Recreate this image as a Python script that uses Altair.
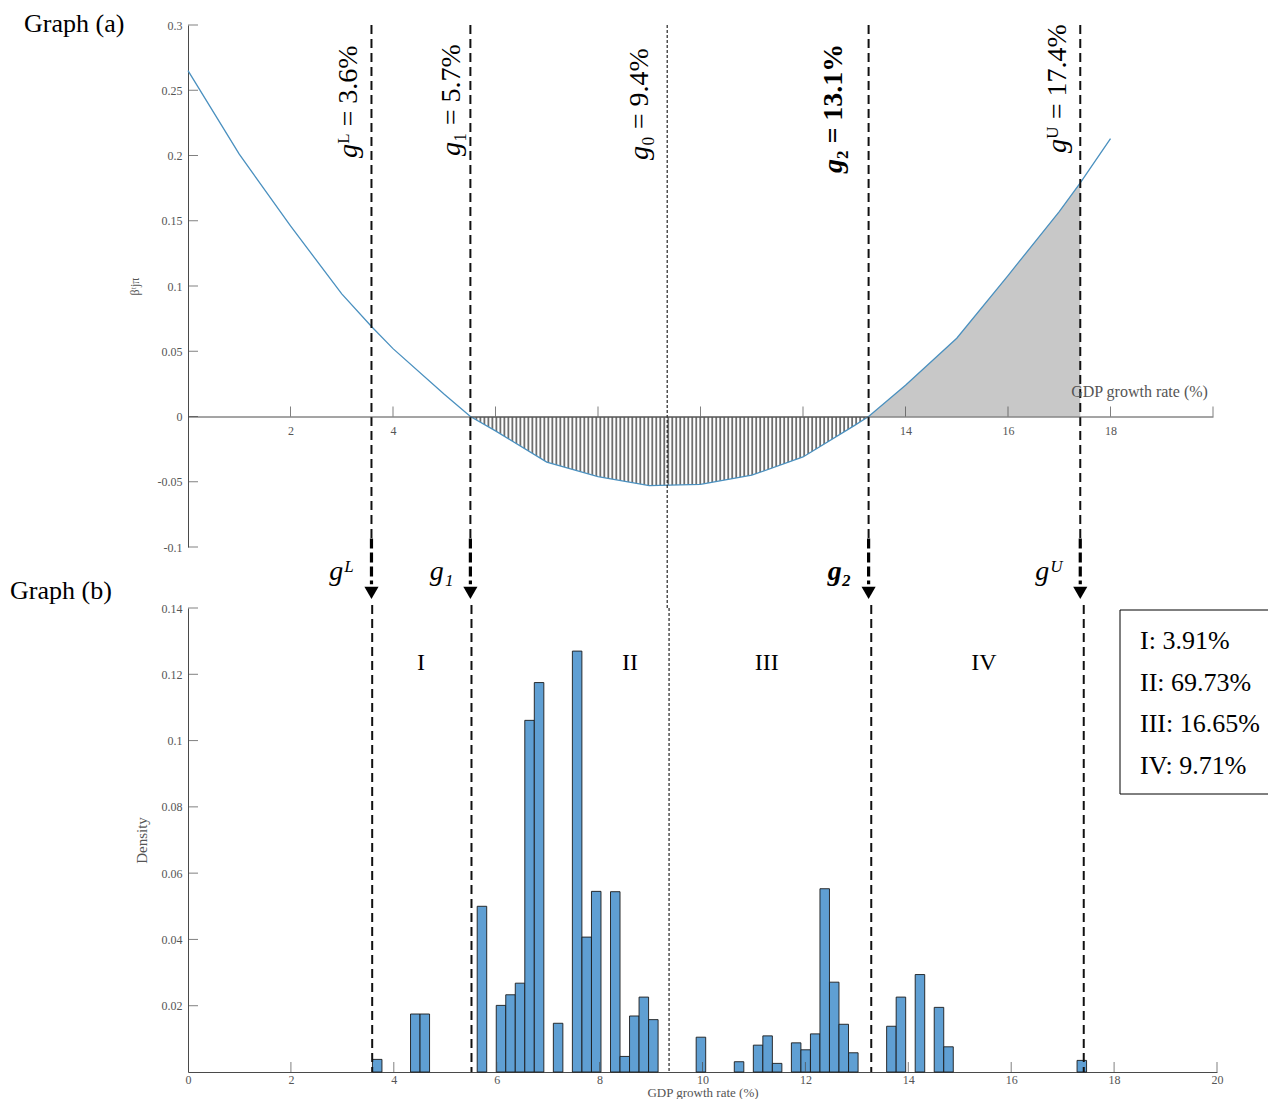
import altair as alt
import pandas as pd

# ---------------- data ----------------
# Graph (a): curve of beta vs GDP growth rate
curve_x = [0, 1, 2, 3, 3.58, 4, 5, 5.51, 6, 7, 8, 9, 10, 11, 12, 13, 13.28,
           14, 15, 16, 17, 17.41, 18]
curve_y = [0.265, 0.201, 0.146, 0.094, 0.069, 0.052, 0.017, 0.0, -0.011,
           -0.035, -0.046, -0.053, -0.052, -0.045, -0.031, -0.007, 0.0,
           0.024, 0.060, 0.108, 0.157, 0.179, 0.213]

# Graph (b): histogram (left bin edges, common width, density)
bin_left = [3.585, 4.325, 4.510, 5.621, 5.991, 6.176, 6.361, 6.546, 6.731,
            7.101, 7.471, 7.657, 7.842, 8.212, 8.397, 8.582, 8.767, 8.952,
            9.877, 10.618, 10.988, 11.173, 11.358, 11.728, 11.913, 12.098,
            12.283, 12.468, 12.653, 12.839, 13.579, 13.764, 14.134, 14.504,
            14.689, 17.280]
density = [0.0038, 0.0175, 0.0175, 0.050, 0.0201, 0.0233, 0.0268, 0.1061,
           0.1175, 0.0147, 0.127, 0.0407, 0.0545, 0.0544, 0.0047, 0.0169,
           0.0226, 0.0158, 0.0105, 0.0031, 0.0081, 0.0109, 0.0026, 0.0088,
           0.0067, 0.0115, 0.0553, 0.0271, 0.0144, 0.0058, 0.0138, 0.0226,
           0.0294, 0.0195, 0.0076, 0.0035]
bin_width = 0.185

# thresholds (positions as drawn)
thr_name = ["gL", "g1", "g0", "g2", "gU"]
thr_x = [3.58, 5.51, 9.35, 13.28, 17.41]

# rotated labels in graph (a)
rot_rest = ["ᴸ = 3.6%", "₁ = 5.7%", "₀ = 9.4%", "₂ = 13.1%", "ᵁ = 17.4%"]
rot_weight = ["normal", "normal", "normal", "bold", "normal"]

# arrow labels
arrow_name = ["gL", "g1", "g2", "gU"]
arrow_text = ["gᴸ", "g₁", "g₂", "gᵁ"]
arrow_weight = ["normal", "normal", "bold", "normal"]

# regions and shares
region_text = ["I", "II", "III", "IV"]
region_x = [4.53, 8.59, 11.25, 15.47]
share_text = ["I: 3.91%", "II: 69.73%", "III: 16.65%", "IV: 9.71%"]

# axes ticks
top_xticks = [2, 4, 6, 8, 10, 12, 14, 16, 18, 20]
top_xlabels = [2, 4, 6, 8, 10, 12, 14, 16, 18]
top_yticks = [-0.1, -0.05, 0, 0.05, 0.1, 0.15, 0.2, 0.25, 0.3]
bot_xlabels = [0, 2, 4, 6, 8, 10, 12, 14, 16, 18, 20]
bot_xticks = [2, 4, 6, 8, 10, 12, 14, 16, 18, 20]
bot_yticks = [0.02, 0.04, 0.06, 0.08, 0.1, 0.12, 0.14]

# ---------------- build tables ----------------
G = dict(zip(thr_name, thr_x))
curve_df = pd.DataFrame({"x": curve_x, "y": curve_y})
hist_df = pd.DataFrame({"left": bin_left, "density": density})
hist_df["right"] = hist_df["left"] + bin_width
arrow_df = pd.DataFrame({"x": [G[n] for n in arrow_name], "label": arrow_text,
                         "w": arrow_weight})
g0_df = pd.DataFrame({"x": [G["g0"]]})

# anchor positions of rotated labels (data x) and split point (pixel y)
rot_anchor_x = [3.29, 5.30, 8.97, 12.77, 17.14]
rot_split_py = [119, 117, 121, 134, 114]
rot_df = pd.DataFrame({"x": rot_anchor_x, "rest": rot_rest, "py": rot_split_py,
                       "w": rot_weight})
region_df = pd.DataFrame({"x": region_x, "t": region_text})
share_df = pd.DataFrame({"t": share_text, "py": [41, 83, 124, 166]})

FONT = "Liberation Serif"
AX = "#4a4a4a"
LBL = "#555555"
TW, TH = 1025, 522
BW, BH = 1029, 464

xs_t = alt.Scale(domain=[0, 20], nice=False, zero=False)
ys_t = alt.Scale(domain=[-0.1, 0.3], nice=False, zero=False)
xs_b = alt.Scale(domain=[0, 20], nice=False, zero=False)
ys_b = alt.Scale(domain=[0, 0.14], nice=False, zero=False)

top_xaxis = alt.Axis(values=top_xlabels,
                     labelExpr="(datum.value >= 6 && datum.value <= 12) ? '' : datum.label",
                     ticks=False, grid=False, domainColor=AX, domainWidth=1,
                     offset=-130.5, labelPadding=9, labelFont=FONT, labelFontSize=12,
                     labelColor=LBL, labelFlush=False,
                     title="GDP growth rate (%)", titleX=951, titleY=-25,
                     titleAlign="center", titleBaseline="middle", titleFont=FONT,
                     titleFontSize=16, titleFontWeight="normal", titleColor=LBL,
                     zindex=1)
top_yaxis = alt.Axis(values=top_yticks, labelExpr="toString(datum.value)",
                     ticks=False, grid=False, domainColor=AX, labelPadding=6,
                     labelFont=FONT, labelFontSize=12, labelColor=LBL,
                     labelFlush=False,
                     title="βᵗjπ", titleFont=FONT, titleFontSize=12,
                     titleFontWeight="normal", titleColor=LBL, titlePadding=16)

# ---------------- Graph (a) ----------------
area_right = alt.Chart(curve_df).transform_filter(
    f"datum.x >= {G['g2']} && datum.x <= {G['gU']}"
).mark_area(color="#c8c8c8", opacity=1).encode(
    x=alt.X("x:Q", scale=xs_t, axis=top_xaxis),
    y=alt.Y("y:Q", scale=ys_t, axis=top_yaxis),
    y2=alt.datum(0),
)
area_hatch = alt.Chart(curve_df).transform_filter(
    f"datum.x >= {G['g1']} && datum.x <= {G['g2']}"
).mark_area(color="#6e6e6e", opacity=1).encode(
    x="x:Q", y="y:Q", y2=alt.datum(0)
)
hatch_gaps = alt.Chart(alt.sequence(G["g1"], G["g2"], 0.078, as_="hx")).mark_rule(
    color="white", strokeWidth=2.2
).encode(
    x="hx:Q",
    y=alt.datum(-0.0008),
    y2=alt.datum(-0.062),
)
curve_line = alt.Chart(curve_df).mark_line(color="#4a90bf", strokeWidth=1.3).encode(
    x="x:Q", y="y:Q"
)
dash_top = alt.Chart(arrow_df).mark_rule(color="#111", strokeWidth=2, strokeDash=[9, 5]).encode(
    x="x:Q", y=alt.datum(0.3), y2=alt.datum(-0.0935)
)
dash_thick = alt.Chart(arrow_df).mark_rule(color="#000", strokeWidth=3.2, strokeDash=[10, 4]).encode(
    x="x:Q", y=alt.datum(-0.0935), y2=alt.datum(-0.1285)
)
arrowheads = alt.Chart(arrow_df).mark_point(
    shape="triangle-down", filled=True, size=200, color="#000", opacity=1
).encode(x="x:Q", y=alt.datum(-0.1352))
g0_top = alt.Chart(g0_df).mark_rule(color="#111", strokeWidth=1.1, strokeDash=[3, 2]).encode(
    x="x:Q", y=alt.datum(0.3), y2=alt.datum(-0.147)
)

rot_layers = []
for w in ["normal", "bold"]:
    sub = alt.Chart(rot_df).transform_filter(f"datum.w == '{w}'")
    rot_layers.append(sub.mark_text(
        angle=270, align="right", baseline="alphabetic", font=FONT, fontSize=28,
        fontStyle="italic", fontWeight=w, color="#000", text="g"
    ).encode(x="x:Q", y=alt.Y("py:Q", scale=None)))
    rot_layers.append(sub.mark_text(
        angle=270, align="left", baseline="alphabetic", font=FONT, fontSize=28,
        fontWeight=w, color="#000"
    ).encode(x="x:Q", y=alt.Y("py:Q", scale=None), text="rest:N"))

arrow_layers = []
for w in ["normal", "bold"]:
    arrow_layers.append(alt.Chart(arrow_df).transform_filter(f"datum.w == '{w}'").mark_text(
        align="right", baseline="alphabetic", font=FONT, fontSize=28,
        fontStyle="italic", fontWeight=w, color="#000", xOffset=-17
    ).encode(x="x:Q", y=alt.value(555), text="label:N"))

title_a = alt.Chart(pd.DataFrame({"t": ["Graph (a)"]})).mark_text(
    align="left", baseline="top", font=FONT, fontSize=26, color="#000"
).encode(x=alt.value(-164), y=alt.value(-14), text="t:N")

top_yt = alt.Chart(pd.DataFrame({"v": top_yticks})).mark_tick(
    orient="horizontal", size=10, thickness=1, color=AX, xOffset=5
).encode(x=alt.datum(0), y="v:Q")
top_xt = alt.Chart(pd.DataFrame({"v": top_xticks})).mark_tick(
    orient="vertical", size=10, thickness=1, color=AX, yOffset=-5
).encode(x="v:Q", y=alt.datum(0))

frame = alt.Chart(pd.DataFrame({"t": [0]})).mark_rule(color="white").encode(
    x=alt.value(-180), x2=alt.value(-172), y=alt.value(-18)
)

top = alt.layer(
    area_right, area_hatch, hatch_gaps, curve_line, dash_top, dash_thick,
    arrowheads, g0_top, *rot_layers, *arrow_layers, title_a, top_yt, top_xt, frame
).properties(width=TW, height=TH)

# ---------------- Graph (b) ----------------
bot_xaxis = alt.Axis(values=bot_xlabels, ticks=False, grid=False, domainColor=AX,
                     labelPadding=2, labelFont=FONT, labelFontSize=12, labelColor=LBL,
                     labelFlush=False, title="GDP growth rate (%)", titlePadding=1,
                     titleFont=FONT, titleFontSize=13, titleFontWeight="normal",
                     titleColor=LBL)
bot_yaxis = alt.Axis(values=bot_yticks, labelExpr="toString(datum.value)",
                     ticks=False, grid=False, domainColor=AX, labelPadding=6,
                     labelFont=FONT, labelFontSize=12, labelColor=LBL,
                     labelFlush=False,
                     title="Density", titleFont=FONT, titleFontSize=15,
                     titleFontWeight="normal", titleColor=LBL, titlePadding=12)

bars = alt.Chart(hist_df).mark_rect(color="#5f9fd3", stroke="#1b1b1b", strokeWidth=0.9).encode(
    x=alt.X("left:Q", scale=xs_b, axis=bot_xaxis), x2="right:Q",
    y=alt.Y("density:Q", scale=ys_b, axis=bot_yaxis), y2=alt.datum(0),
)
dash_bot = alt.Chart(arrow_df).mark_rule(color="#111", strokeWidth=2, strokeDash=[9, 5]).encode(
    x="x:Q", y=alt.datum(0.1409), y2=alt.datum(0)
)
g0_bot = alt.Chart(g0_df).mark_rule(color="#111", strokeWidth=1.1, strokeDash=[3, 2]).encode(
    x="x:Q", y=alt.datum(0.14), y2=alt.datum(0)
)
regions = alt.Chart(region_df).mark_text(
    align="center", baseline="alphabetic", font=FONT, fontSize=24, color="#000"
).encode(x="x:Q", y=alt.value(62), text="t:N")
shares = alt.Chart(share_df).mark_text(
    align="left", baseline="alphabetic", font=FONT, fontSize=26, color="#000"
).encode(x=alt.value(952), y=alt.Y("py:Q", scale=None), text="t:N")
BOX_R = 1080
box_top = alt.Chart(pd.DataFrame({"t": [0]})).mark_rule(color="#000", strokeWidth=1).encode(
    x=alt.value(932), x2=alt.value(BOX_R), y=alt.value(2))
box_bot = alt.Chart(pd.DataFrame({"t": [0]})).mark_rule(color="#000", strokeWidth=1).encode(
    x=alt.value(932), x2=alt.value(BOX_R), y=alt.value(186))
box_left = alt.Chart(pd.DataFrame({"t": [0]})).mark_rule(color="#000", strokeWidth=1).encode(
    x=alt.value(932), y=alt.value(2), y2=alt.value(186))
title_b = alt.Chart(pd.DataFrame({"t": ["Graph (b)"]})).mark_text(
    align="left", baseline="alphabetic", font=FONT, fontSize=26, color="#000"
).encode(x=alt.value(-178), y=alt.value(-9), text="t:N")
bot_yt = alt.Chart(pd.DataFrame({"v": bot_yticks})).mark_tick(
    orient="horizontal", size=10, thickness=1, color=AX, xOffset=5
).encode(x=alt.datum(0), y="v:Q")
bot_xt = alt.Chart(pd.DataFrame({"v": bot_xticks})).mark_tick(
    orient="vertical", size=10, thickness=1, color=AX, yOffset=-5
).encode(x="v:Q", y=alt.datum(0))

bottom = alt.layer(
    bars, dash_bot, g0_bot, regions, shares, box_top, box_bot, box_left,
    title_b, bot_yt, bot_xt
).properties(width=BW, height=BH)

chart = alt.vconcat(top, bottom, spacing=61, bounds="flush").properties(
    padding={"left": -1, "top": -2, "right": 0, "bottom": 0},
    background="white",
).configure_view(stroke=None)

chart.save("out.html", embed_options={"renderer": "svg", "actions": False})
